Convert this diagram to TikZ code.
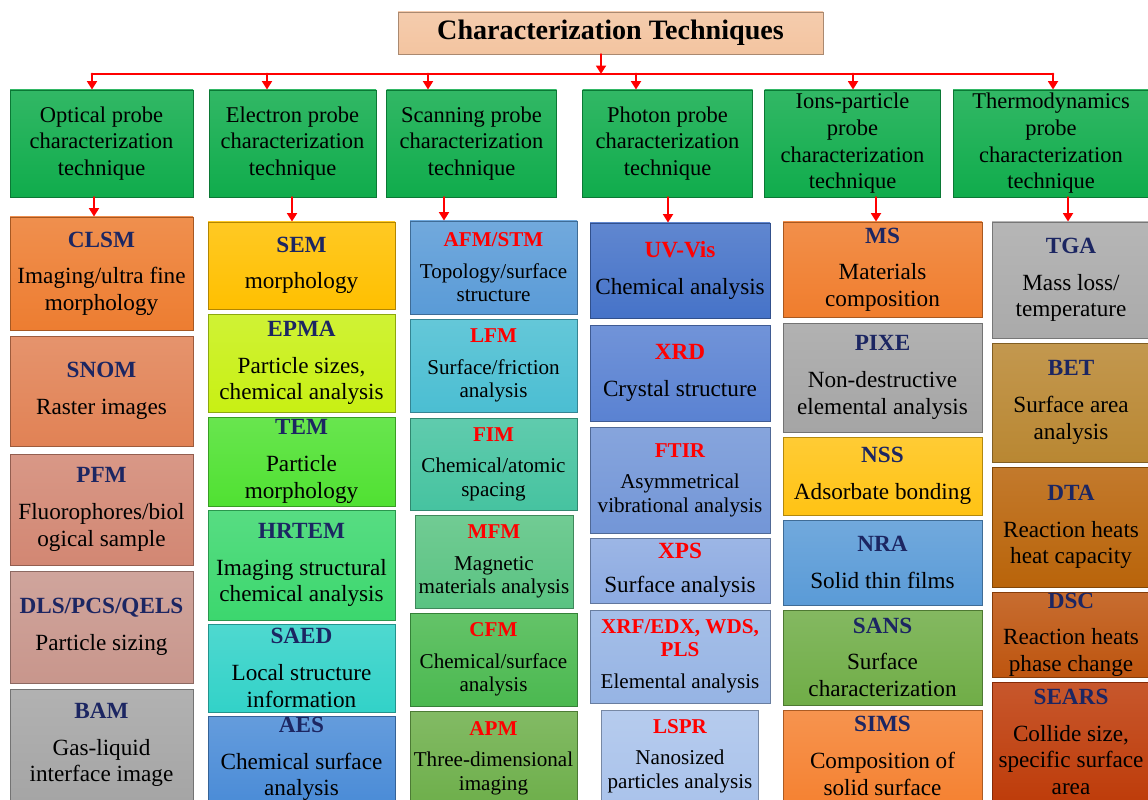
\documentclass[tikz,border=0pt]{standalone}
\usepackage{fontspec}
\setmainfont{Liberation Serif}
\usetikzlibrary{arrows.meta}
\usepackage{xcolor}

\definecolor{navy}{RGB}{28,38,98}
\definecolor{cTitle}{RGB}{243,196,160}
\definecolor{cHead}{RGB}{16,172,76}
% optical
\definecolor{cClsm}{RGB}{237,125,49}
\definecolor{cSnom}{RGB}{225,130,85}
\definecolor{cPfm}{RGB}{210,135,115}
\definecolor{cDls}{RGB}{200,150,140}
\definecolor{cBam}{RGB}{165,165,165}
% electron
\definecolor{cSem}{RGB}{255,192,0}
\definecolor{cEpma}{RGB}{200,240,20}
\definecolor{cTem}{RGB}{80,225,50}
\definecolor{cHrtem}{RGB}{60,215,110}
\definecolor{cSaed}{RGB}{50,210,200}
\definecolor{cAes}{RGB}{75,140,215}
% scanning
\definecolor{cAfm}{RGB}{90,155,215}
\definecolor{cLfm}{RGB}{75,190,210}
\definecolor{cFim}{RGB}{70,195,160}
\definecolor{cMfm}{RGB}{90,195,130}
\definecolor{cCfm}{RGB}{75,185,80}
\definecolor{cApm}{RGB}{110,175,75}
% photon
\definecolor{cUv}{RGB}{70,115,200}
\definecolor{cXrd}{RGB}{90,130,210}
\definecolor{cFtir}{RGB}{115,150,215}
\definecolor{cXps}{RGB}{140,170,225}
\definecolor{cXrf}{RGB}{150,180,228}
\definecolor{cLspr}{RGB}{170,195,235}
% ions
\definecolor{cMs}{RGB}{240,125,45}
\definecolor{cPixe}{RGB}{165,165,165}
\definecolor{cNss}{RGB}{255,195,20}
\definecolor{cNra}{RGB}{90,155,215}
\definecolor{cSans}{RGB}{112,173,71}
\definecolor{cSims}{RGB}{245,130,50}
% thermo
\definecolor{cTga}{RGB}{170,170,170}
\definecolor{cBet}{RGB}{185,135,50}
\definecolor{cDta}{RGB}{185,100,10}
\definecolor{cDsc}{RGB}{190,85,15}
\definecolor{cSears}{RGB}{190,60,10}

\newcommand{\tnav}[1]{{\color{navy}\bfseries #1}}
\newcommand{\tred}[1]{{\color{red}\bfseries #1}}

\begin{document}
\begin{tikzpicture}[x=0.025cm,y=-0.025cm,line cap=round,
  arr/.style={red,line width=2pt,-{Triangle[width=7pt,length=6pt]}},
  sz/.style 2 args={minimum width=#1*0.025cm,minimum height=#2*0.025cm},
  box/.style={draw=#1!70!black,line width=0.6pt,top color=#1!86!white,bottom color=#1,
    align=center,inner sep=0pt,font=\fontsize{16.5}{19}\selectfont},
  head/.style={box=cHead,font=\fontsize{16}{19}\selectfont},
  small/.style={font=\fontsize{15}{16.5}\selectfont}]
\useasboundingbox (0,0) rectangle (1148,800);
\clip (0,0) rectangle (1148,800);

% title and bus
\node[box=cTitle,sz={425}{42},font=\fontsize{20}{22}\selectfont] (title) at (610.5,33) {\bfseries Characterization Techniques};
\coordinate (b0) at (601,74);
\coordinate (b1) at (92,74);
\coordinate (b2) at (267,74);
\coordinate (b3) at (428,74);
\coordinate (b4) at (636,74);
\coordinate (b5) at (853,74);
\coordinate (b6) at (1053,74);
\draw[red,line width=2pt] (b1) -- (b6);
\draw[arr] (title.south -| b0) -- (b0);

% technique groups
\node[head,sz={183}{107}] (g1) at (101.5,143.5) {Optical probe\\characterization\\technique};
\node[head,sz={167}{107}] (g2) at (292.5,143.5) {Electron probe\\characterization\\technique};
\node[head,sz={170}{107}] (g3) at (471.5,143.5) {Scanning probe\\characterization\\technique};
\node[head,sz={170}{107}] (g4) at (667.5,143.5) {Photon probe\\characterization\\technique};
\node[head,sz={176}{107}] (g5) at (852.5,143.5) {Ions-particle\\probe\\characterization\\technique};
\node[head,sz={196}{107}] (g6) at (1051,143.5) {Thermodynamics\\probe\\characterization\\technique};
\foreach \i in {1,...,6}
  \draw[arr] (b\i) -- (g\i.north -| b\i);

% optical
\node[box=cClsm,sz={183}{113}] (clsm) at (101.5,273.5) {\tnav{CLSM}\\[7pt]Imaging/ultra fine\\morphology};
\node[box=cSnom,sz={183}{110}] (snom) at (101.5,391) {\tnav{SNOM}\\[7pt]Raster images};
\node[box=cPfm,sz={183}{111}] (pfm) at (101.5,509.5) {\tnav{PFM}\\[7pt]Fluorophores/biol\\ogical sample};
\node[box=cDls,sz={183}{112}] (dls) at (101.5,627) {\tnav{DLS/PCS/QELS}\\[7pt]Particle sizing};
\node[box=cBam,sz={183}{112}] (bam) at (101.5,745) {\tnav{BAM}\\[7pt]Gas-liquid\\interface image};

% electron
\node[box=cSem,sz={187}{87}] (sem) at (301.5,265.5) {\tnav{SEM}\\[7pt]morphology};
\node[box=cEpma,sz={187}{98}] (epma) at (301.5,363) {\tnav{EPMA}\\[7pt]Particle sizes,\\chemical analysis};
\node[box=cTem,sz={187}{89}] (tem) at (301.5,461.5) {\tnav{TEM}\\[7pt]Particle\\morphology};
\node[box=cHrtem,sz={187}{110}] (hrtem) at (301.5,565) {\tnav{HRTEM}\\[7pt]Imaging structural\\chemical analysis};
\node[box=cSaed,sz={187}{88}] (saed) at (301.5,668) {\tnav{SAED}\\[7pt]Local structure\\information};
\node[box=cAes,sz={187}{86}] (aes) at (301.5,759) {\tnav{AES}\\[7pt]Chemical surface\\analysis};

% scanning
\node[box=cAfm,small,sz={167}{93}] (afm) at (493.5,267.5) {\tred{AFM/STM}\\[6pt]Topology/surface\\structure};
\node[box=cLfm,small,sz={167}{93}] (lfm) at (493.5,365.5) {\tred{LFM}\\[6pt]Surface/friction\\analysis};
\node[box=cFim,small,sz={167}{92}] (fim) at (493.5,464) {\tred{FIM}\\[6pt]Chemical/atomic\\spacing};
\node[box=cMfm,small,sz={158}{93}] (mfm) at (494,561.5) {\tred{MFM}\\[6pt]Magnetic\\materials analysis};
\node[box=cCfm,small,sz={167}{93}] (cfm) at (493.5,659.5) {\tred{CFM}\\[6pt]Chemical/surface\\analysis};
\node[box=cApm,small,sz={167}{94}] (apm) at (493.5,758) {\tred{APM}\\[6pt]Three-dimensional\\imaging};

% photon
\node[box=cUv,sz={180}{95}] (uv) at (680,270.5) {\tred{UV-Vis}\\[7pt]Chemical analysis};
\node[box=cXrd,sz={180}{96}] (xrd) at (680,373) {\tred{XRD}\\[7pt]Crystal structure};
\node[box=cFtir,small,sz={180}{106}] (ftir) at (680,480) {\tred{FTIR}\\[6pt]Asymmetrical\\vibrational analysis};
\node[box=cXps,sz={180}{65}] (xps) at (680,570.5) {\tred{XPS}\\[5pt]Surface analysis};
\node[box=cXrf,small,sz={180}{93}] (xrf) at (680,656.5) {\tred{XRF/EDX, WDS,}\\\tred{PLS}\\[6pt]Elemental analysis};
\node[box=cLspr,small,sz={157}{92}] (lspr) at (680,756) {\tred{LSPR}\\[6pt]Nanosized\\particles analysis};

% ions-particle
\node[box=cMs,sz={199}{95}] (ms) at (882.5,269.5) {\tnav{MS}\\[7pt]Materials\\composition};
\node[box=cPixe,sz={199}{109}] (pixe) at (882.5,377.5) {\tnav{PIXE}\\[7pt]Non-destructive\\elemental analysis};
\node[box=cNss,sz={199}{78}] (nss) at (882.5,476) {\tnav{NSS}\\[7pt]Adsorbate bonding};
\node[box=cNra,sz={199}{85}] (nra) at (882.5,562.5) {\tnav{NRA}\\[7pt]Solid thin films};
\node[box=cSans,sz={199}{95}] (sans) at (882.5,657.5) {\tnav{SANS}\\[7pt]Surface\\characterization};
\node[box=cSims,sz={199}{92}] (sims) at (882.5,756) {\tnav{SIMS}\\[7pt]Composition of\\solid surface};

% thermodynamics
\node[box=cTga,sz={158}{116}] (tga) at (1071,280) {\tnav{TGA}\\[7pt]Mass loss/\\temperature};
\node[box=cBet,sz={158}{119}] (bet) at (1071,402.5) {\tnav{BET}\\[7pt]Surface area\\analysis};
\node[box=cDta,sz={158}{120}] (dta) at (1071,527) {\tnav{DTA}\\[7pt]Reaction heats\\heat capacity};
\node[box=cDsc,sz={158}{85}] (dsc) at (1071,634.5) {\tnav{DSC}\\[7pt]Reaction heats\\phase change};
\node[box=cSears,sz={158}{120}] (sears) at (1071,742) {\tnav{SEARS}\\[7pt]Collide size,\\specific surface\\area};

% group to first technique
\coordinate (x1) at (94,0);
\coordinate (x2) at (292,0);
\coordinate (x3) at (444,0);
\coordinate (x4) at (668,0);
\coordinate (x5) at (876,0);
\coordinate (x6) at (1068,0);
\draw[arr] (g1.south -| x1) -- (clsm.north -| x1);
\draw[arr] (g2.south -| x2) -- (sem.north -| x2);
\draw[arr] (g3.south -| x3) -- (afm.north -| x3);
\draw[arr] (g4.south -| x4) -- (uv.north -| x4);
\draw[arr] (g5.south -| x5) -- (ms.north -| x5);
\draw[arr] (g6.south -| x6) -- (tga.north -| x6);
\end{tikzpicture}
\end{document}
